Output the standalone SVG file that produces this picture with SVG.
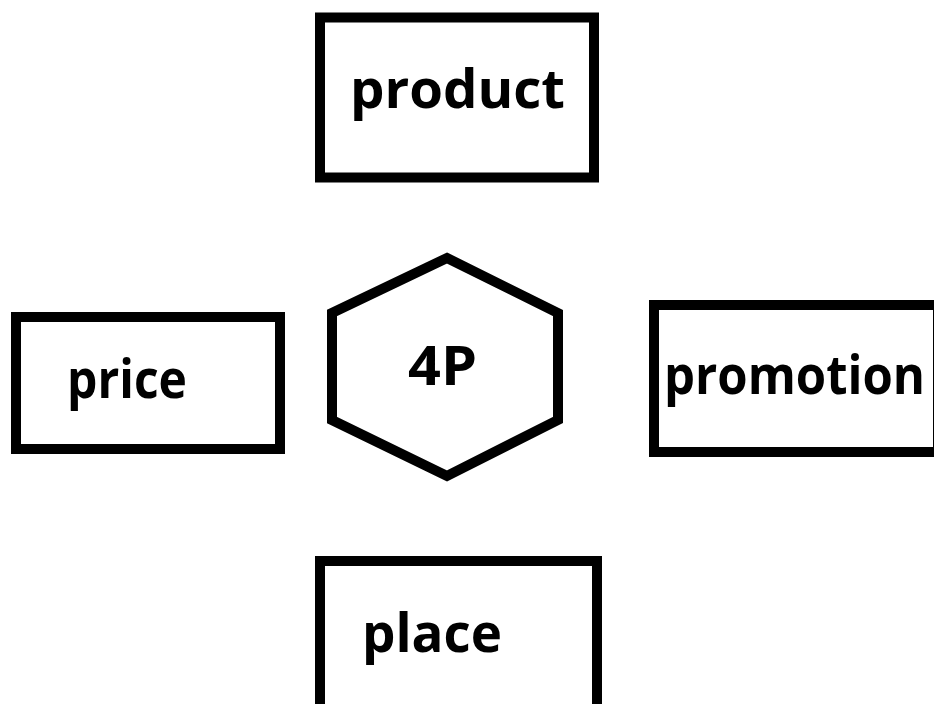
<svg xmlns="http://www.w3.org/2000/svg" width="934" height="704" viewBox="0 0 934 704">
<style>
.box{fill:#fff;stroke:#000;stroke-width:10;stroke-linejoin:miter}
.lbl{font-family:"Open Sans","Noto Sans","Liberation Sans",sans-serif;font-weight:bold;font-size:54px;fill:#000}
</style>
<rect width="934" height="704" fill="#fff"/>
<g id="connectors"></g>
<g id="product">
<rect class="box" x="320" y="17.5" width="274" height="160"/>
<text class="lbl" x="350" y="108" textLength="215" lengthAdjust="spacingAndGlyphs">product</text>
</g>
<g id="price">
<rect class="box" x="16" y="317" width="264" height="132"/>
<text class="lbl" x="67" y="398" textLength="120" lengthAdjust="spacingAndGlyphs">price</text>
</g>
<g id="center4p">
<polygon class="box" points="447,258 558,313 558,420 447,476 332,420 332,313"/>
<text class="lbl" x="408" y="385" textLength="69" lengthAdjust="spacingAndGlyphs">4P</text>
</g>
<g id="promotion">
<rect class="box" x="654" y="305" width="284" height="147"/>
<text class="lbl" x="664" y="394" textLength="261" lengthAdjust="spacingAndGlyphs">promotion</text>
</g>
<g id="place">
<rect class="box" x="320" y="561" width="277" height="160"/>
<text class="lbl" x="362" y="652" textLength="140" lengthAdjust="spacingAndGlyphs">place</text>
</g>
</svg>
